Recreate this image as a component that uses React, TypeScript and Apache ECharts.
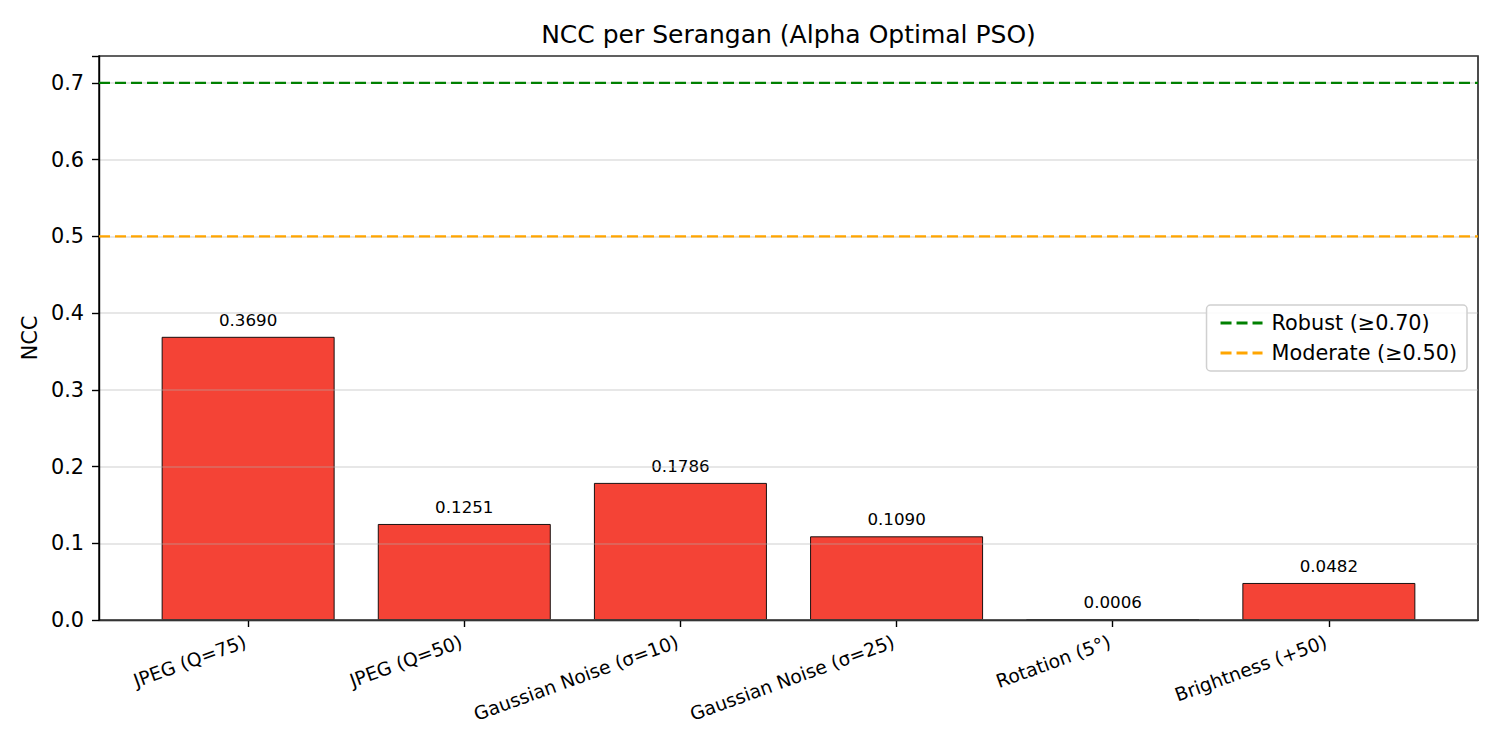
import React, { useEffect, useRef } from "react";
import * as echarts from "echarts";

const categories = [
  "JPEG (Q=75)",
  "JPEG (Q=50)",
  "Gaussian Noise (σ=10)",
  "Gaussian Noise (σ=25)",
  "Rotation (5°)",
  "Brightness (+50)",
];
const nccValues = [0.369, 0.1251, 0.1786, 0.109, 0.0006, 0.0482];
const yTicks = [0, 0.1, 0.2, 0.3, 0.4, 0.5, 0.6, 0.7];
const thresholds = [
  { name: "Robust (≥0.70)", value: 0.7, color: "#008000" },
  { name: "Moderate (≥0.50)", value: 0.5, color: "#FFA500" },
];

const X_MIN = -0.69;
const X_MAX = 5.69;
const FONT = "DejaVu Sans";
const DASH_ICON = "path://M0,0h11v3h-11z M16,0h11v3h-11z M32,0h10v3h-10z";

export default function App() {
  const ref = useRef<HTMLDivElement>(null);
  useEffect(() => {
    if (!ref.current) return;
    const chart = echarts.init(ref.current, null, { renderer: "svg" });
    const gridLeft = 99;
    const gridRight = 22;
    const plotW = 1500 - gridLeft - gridRight;
    const barW = (0.8 * plotW) / (X_MAX - X_MIN);
    const option: any = {
      animation: false,
      backgroundColor: "#ffffff",
      textStyle: { fontFamily: FONT },
      title: {
        text: "NCC per Serangan (Alpha Optimal PSO)",
        left: gridLeft + plotW / 2,
        textAlign: "center",
        top: 22,
        padding: 0,
        textStyle: { fontFamily: FONT, fontSize: 25, fontWeight: "normal", color: "#000" },
      },
      legend: {
        data: thresholds.map((t) => ({ name: t.name, icon: DASH_ICON })),
        orient: "vertical",
        right: 33,
        top: 305,
        itemWidth: 42,
        itemHeight: 3,
        itemGap: 8,
        padding: [7, 10, 7, 14],
        borderColor: "#d0d0d0",
        borderWidth: 1.5,
        borderRadius: 4,
        backgroundColor: "rgba(255,255,255,0.85)",
        textStyle: { fontFamily: FONT, fontSize: 20.8, color: "#000", lineHeight: 22, padding: [0, 0, 0, 4] },
      },
      grid: {
        left: gridLeft,
        right: gridRight,
        top: 56,
        bottom: 130,
        show: true,
        borderColor: "#000",
        borderWidth: 1.4,
        backgroundColor: "transparent",
      },
      xAxis: {
        type: "value",
        min: X_MIN,
        max: X_MAX,
        splitLine: { show: false },
        axisLine: { show: true, onZero: false, lineStyle: { color: "#000", width: 1.4 } },
        axisTick: {
          show: true,
          customValues: categories.map((_, i) => i),
          length: 7,
          lineStyle: { color: "#000", width: 1.4 },
        },
        axisLabel: {
          customValues: categories.map((_, i) => i),
          formatter: (v: number) => categories[Math.round(v)] ?? "",
          rotate: 20,
          margin: 20,
          padding: [0, 3, 0, 0],
          fontFamily: FONT,
          fontSize: 18.75,
          color: "#000",
        },
      },
      yAxis: {
        type: "value",
        min: 0,
        max: 0.735,
        interval: 0.1,
        z: 3,
        name: "NCC",
        nameLocation: "middle",
        nameGap: 52,
        nameRotate: 90,
        nameTextStyle: { fontFamily: FONT, fontSize: 20.8, color: "#000" },
        axisLine: { show: true, onZero: false, lineStyle: { color: "#000", width: 1.4 } },
        axisTick: { show: true, length: 7, lineStyle: { color: "#000", width: 1.4 } },
        axisLabel: {
          margin: 15,
          fontFamily: FONT,
          fontSize: 20.8,
          color: "#000",
          formatter: (v: number) => (yTicks.some((t) => Math.abs(t - v) < 1e-9) ? v.toFixed(1) : ""),
        },
        splitLine: { show: true, lineStyle: { color: "rgba(176,176,176,0.4)", width: 1.5 } },
      },
      series: [
        {
          type: "bar",
          name: "NCC",
          barWidth: barW,
          data: nccValues.map((v, i) => [i, v]),
          itemStyle: { color: "#F44336", borderColor: "#000", borderWidth: 0.9 },
          label: {
            show: true,
            position: "top",
            distance: 8.5,
            fontFamily: FONT,
            fontSize: 16.7,
            color: "#000",
            formatter: (p: any) => Number(p.value[1]).toFixed(4),
          },
        },
        ...thresholds.map((t) => ({
          type: "line",
          name: t.name,
          data: [
            [X_MIN, t.value],
            [X_MAX, t.value],
          ],
          symbol: "none",
          z: 4,
          lineStyle: { color: t.color, width: 2.4, type: [11, 5] },
          itemStyle: { color: t.color },
        })),
      ],
    };
    chart.setOption(option);
    return () => chart.dispose();
  }, []);
  return (
    <div
      ref={ref}
      style={{ position: "fixed", left: 0, top: 0, width: 1500, height: 750, background: "#fff" }}
    />
  );
}
